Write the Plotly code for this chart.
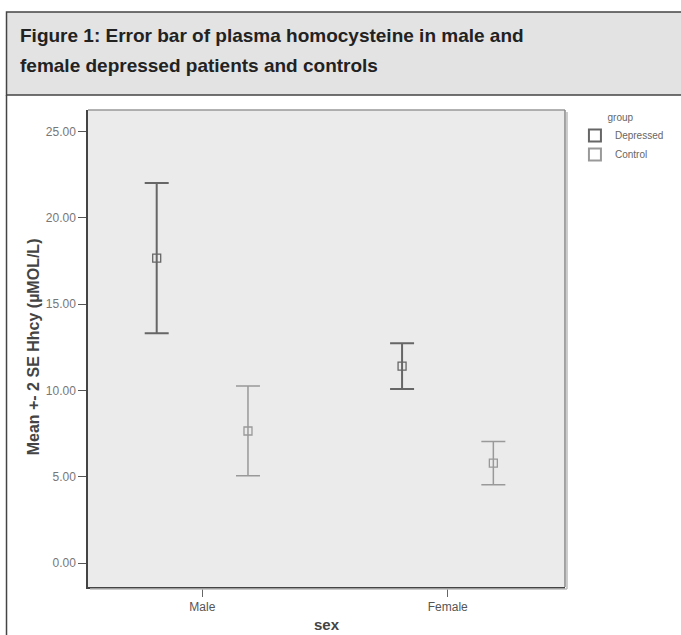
import plotly.graph_objects as go

sexes = ["Male", "Female"]
groups = ["Depressed", "Control"]
means = {"Depressed": [17.67, 11.41], "Control": [7.65, 5.79]}
errs = {"Depressed": [4.35, 1.33], "Control": [2.60, 1.25]}
y_ticks = [0, 5, 10, 15, 20, 25]
y_ticktext = ["0.00", "5.00", "10.00", "15.00", "20.00", "25.00"]

W, H = 681, 635
L, R, T, B = 88, 568, 110, 587
def px(x): return (x - L) / (R - L)
def py(y): return (B - y) / (B - T)

dodge = {"Depressed": -0.186, "Control": 0.186}
colors = {"Depressed": "#666666", "Control": "#999999"}
ewidth = {"Depressed": 2.0, "Control": 1.5}

fig = go.Figure()
for g in groups:
    xs = [i + dodge[g] for i in range(len(sexes))]
    fig.add_trace(go.Scatter(
        x=xs, y=means[g], mode="markers", name=g,
        marker=dict(symbol="square-open", size=8, color=colors[g], line=dict(width=1.3)),
        error_y=dict(type="data", array=errs[g], visible=True, color=colors[g],
                     thickness=ewidth[g], width=12),
    ))

fig.update_layout(
    width=W, height=H,
    margin=dict(l=L, r=W - R, t=T, b=H - B, pad=0),
    paper_bgcolor="white", plot_bgcolor="#ebebeb",
    font=dict(family="Liberation Sans, Arial, sans-serif", color="#555"),
    showlegend=True,
    legend=dict(x=px(578), y=py(108), xanchor="left", yanchor="top",
                bgcolor="rgba(0,0,0,0)", font=dict(size=10, color="#666"),
                title=dict(text="&nbsp;" * 11 + "group", font=dict(size=10, color="#666")),
                itemsizing="constant", tracegroupgap=0, itemwidth=30),
    xaxis=dict(range=[-0.466, 1.478], tickvals=[0, 1], ticktext=sexes,
               showgrid=False, zeroline=False, showline=True, linecolor="#444",
               linewidth=1.5, ticks="outside", ticklen=8, tickcolor="#666",
               tickfont=dict(size=12, color="#555")),
    yaxis=dict(range=[-1.39, 26.25], tickvals=y_ticks, ticktext=y_ticktext,
               showgrid=False, zeroline=False, showline=True, linecolor="#444",
               linewidth=1.5, ticks="outside", ticklen=8, tickcolor="#555",
               tickfont=dict(size=12, color="#777")),
)

shapes = [
    dict(type="rect", xref="paper", yref="paper", x0=px(6), x1=px(700), y0=py(95), y1=py(12),
         fillcolor="#e3e3e3", line=dict(color="#444", width=1.5), layer="below"),
    dict(type="line", xref="paper", yref="paper", x0=px(6), x1=px(6), y0=py(95), y1=py(660),
         line=dict(color="#444", width=1.5)),
    dict(type="line", xref="paper", yref="paper", x0=0, x1=1, y0=1, y1=1,
         line=dict(color="#999", width=1.5)),
    dict(type="line", xref="paper", yref="paper", x0=1, x1=1, y0=0, y1=1,
         line=dict(color="#888", width=1.5)),
    dict(type="line", xref="paper", yref="paper", x0=px(R + 2), x1=px(R + 2), y0=py(B + 2), y1=py(T + 2),
         line=dict(color="#bbb", width=1.5)),
    dict(type="line", xref="paper", yref="paper", x0=px(L + 2), x1=px(R + 2), y0=py(B + 2), y1=py(B + 2),
         line=dict(color="#bbb", width=1.5)),
]
fig.update_layout(shapes=shapes)

fig.add_annotation(xref="paper", yref="paper", x=px(18), y=py(36), xanchor="left", yanchor="middle",
                   text="<b>Figure 1: Error bar of plasma homocysteine in male and</b>",
                   showarrow=False, font=dict(size=19, color="#222"))
fig.add_annotation(xref="paper", yref="paper", x=px(18), y=py(65), xanchor="left", yanchor="middle",
                   text="<b>female depressed patients and controls</b>",
                   showarrow=False, font=dict(size=19, color="#222"))
fig.add_annotation(xref="paper", yref="paper", x=px(33), y=py(347), xanchor="center", yanchor="middle",
                   text="<b>Mean +- 2 SE Hhcy (µMOL/L)</b>", textangle=-90,
                   showarrow=False, font=dict(size=16, color="#444"))
fig.add_annotation(xref="paper", yref="paper", x=px(328), y=py(624), xanchor="center", yanchor="middle",
                   text="<b>sex</b>", showarrow=False, font=dict(size=15, color="#444"))

fig.write_html("out.html", config={"displayModeBar": False},
               post_script="document.body.style.margin='0';")
